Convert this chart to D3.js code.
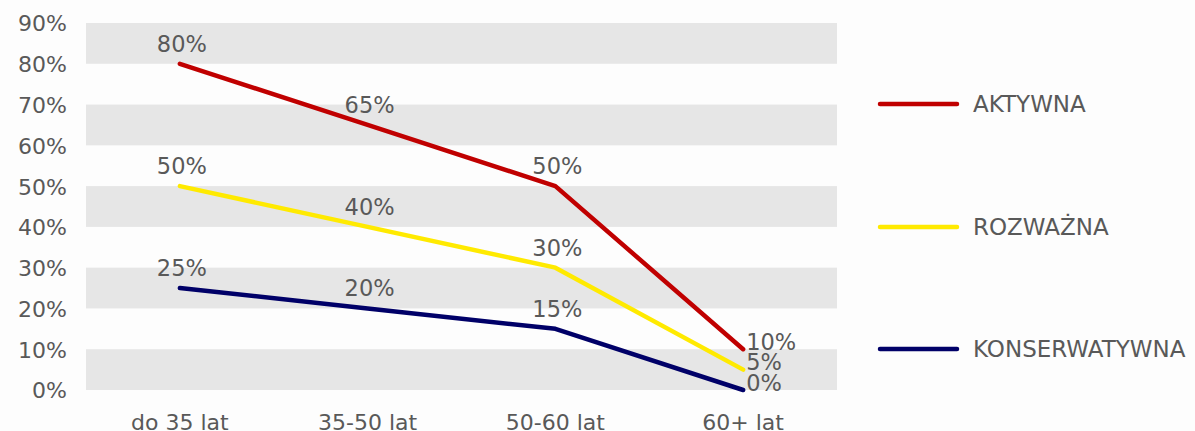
<!DOCTYPE html>
<html>
<head>
<meta charset="utf-8">
<script src="https://cdn.jsdelivr.net/npm/d3@7"></script>
<style>
  html, body { margin: 0; padding: 0; background: #fdfdfd; }
  svg { display: block; }
  text { font-family: "DejaVu Sans", "Noto Sans", sans-serif; fill: #595959; }
</style>
</head>
<body>
<svg id="chart" width="1195" height="431"></svg>
<script>
// Age groups along the x axis
const categories = ["do 35 lat", "35-50 lat", "50-60 lat", "60+ lat"];

// Share of each investment strategy per age group (%)
const seriesNames = ["AKTYWNA", "ROZWAŻNA", "KONSERWATYWNA"];
const aktywna = [80, 65, 50, 10];
const rozwazna = [50, 40, 30, 5];
const konserwatywna = [25, 20, 15, 0];
const seriesColors = ["#c00000", "#ffea00", "#000068"];

// Y axis tick values (%)
const yTicks = [0, 10, 20, 30, 40, 50, 60, 70, 80, 90];

const series = [aktywna, rozwazna, konserwatywna].map((values, i) => ({
  name: seriesNames[i], color: seriesColors[i], values
}));

const svg = d3.select("#chart");
const plot = { left: 86, right: 837, top: 23, bottom: 390 };

const x = d3.scaleBand().domain(categories).range([plot.left, plot.right]);
const y = d3.scaleLinear().domain([0, 90]).range([plot.bottom, plot.top]);

// Alternating horizontal bands behind the plot
const bands = yTicks.slice(0, -1).filter((d, i) => i % 2 === 0);
svg.append("g").selectAll("rect").data(bands).join("rect")
  .attr("x", plot.left)
  .attr("width", plot.right - plot.left)
  .attr("y", d => y(d + 10))
  .attr("height", d => y(d) - y(d + 10))
  .attr("fill", "#e6e6e6");

// Y axis labels
const yAxis = d3.axisLeft(y).tickValues(yTicks).tickFormat(d => d + "%").tickSize(0).tickPadding(19);
const gy = svg.append("g").attr("transform", `translate(${plot.left},0)`).call(yAxis);
gy.select(".domain").remove();
gy.selectAll("text").style("font-size", "22px").attr("dy", "0.36em");

// X axis labels
const xAxis = d3.axisBottom(x).tickSize(0).tickPadding(24);
const gx = svg.append("g").attr("transform", `translate(0,${plot.bottom})`).call(xAxis);
gx.select(".domain").remove();
gx.selectAll("text").style("font-size", "22px");

const cx = d => x(d) + x.bandwidth() / 2;
const line = d3.line().x((d, i) => cx(categories[i])).y(d => y(d));

// Series lines
svg.append("g").selectAll("path").data(series).join("path")
  .attr("d", s => line(s.values))
  .attr("fill", "none")
  .attr("stroke", s => s.color)
  .attr("stroke-width", 4.5)
  .attr("stroke-linejoin", "round")
  .attr("stroke-linecap", "round");

// Value labels: above each point, to the right for the last group
const labels = [];
series.forEach(s => s.values.forEach((v, i) => labels.push({ v, i })));
const last = categories.length - 1;
svg.append("g").selectAll("text").data(labels).join("text")
  .attr("x", d => d.i === last ? cx(categories[d.i]) + 3 : cx(categories[d.i]) + 2)
  .attr("y", d => d.i === last ? y(d.v) + 0.5 : y(d.v) - 12)
  .attr("text-anchor", d => d.i === last ? "start" : "middle")
  .style("font-size", "22.5px")
  .text(d => d.v + "%");

// Legend
const legendY = [104, 227, 349];
const lg = svg.append("g").selectAll("g").data(series).join("g")
  .attr("transform", (s, i) => `translate(880,${legendY[i]})`);
lg.append("line")
  .attr("x1", 0).attr("x2", 77)
  .attr("stroke", s => s.color)
  .attr("stroke-width", 4.5)
  .attr("stroke-linecap", "round");
lg.append("text")
  .attr("x", 93).attr("dy", "0.36em")
  .style("font-size", "23px")
  .text(s => s.name);
</script>
</body>
</html>
